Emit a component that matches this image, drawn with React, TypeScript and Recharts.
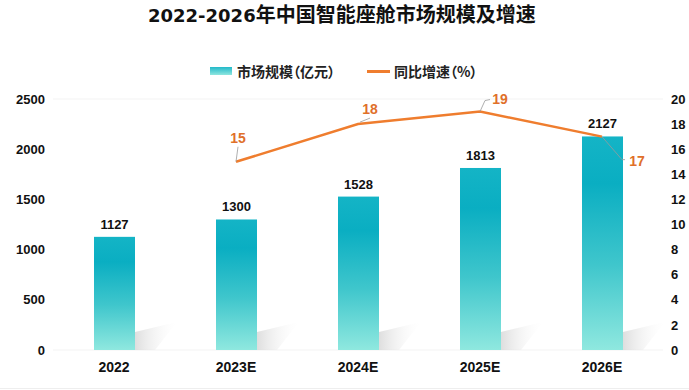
import React from "react";
import {
  ComposedChart,
  Bar,
  Line,
  XAxis,
  YAxis,
  CartesianGrid,
  LabelList,
} from "recharts";

const categories = ["2022", "2023E", "2024E", "2025E", "2026E"];
const marketSize = [1127, 1300, 1528, 1813, 2127];
const growthRate: (number | null)[] = [null, 15, 18, 19, 17];
const leftTicks = [0, 500, 1000, 1500, 2000, 2500];
const rightTicks = [0, 2, 4, 6, 8, 10, 12, 14, 16, 18, 20];

const TITLE_YEARS = "2022-2026";
const TITLE_REST = "年中国智能座舱市场规模及增速";
const LEGEND_BAR = "市场规模（亿元）";
const LEGEND_LINE = "同比增速（%）";

const data = categories.map((c, i) => ({
  name: c,
  size: marketSize[i],
  rate: growthRate[i],
}));

const NUM_FONT = "'Liberation Sans', Arial, 'Noto Sans CJK SC', sans-serif";
const TITLE_NUM_FONT = "'DejaVu Sans', 'Liberation Sans', sans-serif";
const CJK_FONT = "'Noto Sans CJK SC', 'Liberation Sans', sans-serif";
const ORANGE = "#ef7d2e";
const LABEL_ORANGE = "#e0702a";

// label placements for the growth line (dx, dy of label center; leader path)
const rateLabelStyle: Record<number, { dx: number; dy: number; leader: [number, number][] }> = {
  1: { dx: 2, dy: -24, leader: [[0, 0], [2, -15]] },
  2: { dx: 12, dy: -15, leader: [[2, -2], [12, -6]] },
  3: { dx: 20, dy: -13, leader: [[0, 0], [5, -11], [10, -12]] },
  4: { dx: 35, dy: 24, leader: [[0, 0], [20, 23], [23, 23]] },
};

const BarShape = (props: any) => {
  const { x, y, width, height } = props;
  const b = y + height;
  const r = x + width;
  const shadow = `${r},${b} ${r},${b - 18} ${r + 42},${b - 28} ${r + 20},${b}`;
  return (
    <g>
      <polygon points={shadow} fill="url(#shadowGrad)" />
      <rect x={x} y={y} width={width} height={height} fill="url(#barGrad)" />
    </g>
  );
};

const RateLabel = (props: any) => {
  const { x, y, value, index } = props;
  if (value == null) return null;
  const s = rateLabelStyle[index] || { dx: 0, dy: -14, leader: [] };
  const pts = s.leader.map(([a, b]) => `${x + a},${y + b}`).join(" ");
  return (
    <g>
      {s.leader.length > 1 && (
        <polyline points={pts} fill="none" stroke="#9a9a9a" strokeWidth={0.8} />
      )}
      <text
        x={x + s.dx}
        y={y + s.dy}
        textAnchor="middle"
        dominantBaseline="central"
        fill={LABEL_ORANGE}
        fontFamily={NUM_FONT}
        fontWeight="bold"
        fontSize={14}
      >
        {value}
      </text>
    </g>
  );
};

export default function App() {
  return (
    <div
      style={{
        position: "absolute",
        left: 0,
        top: 0,
        width: 689,
        height: 390,
        background: "#fff",
        overflow: "hidden",
      }}
    >
      <div
        style={{
          position: "absolute",
          left: 148,
          top: 1,
          fontWeight: "bold",
          color: "#111",
          lineHeight: "26px",
          whiteSpace: "nowrap",
        }}
      >
        <span style={{ fontFamily: TITLE_NUM_FONT, fontSize: 18 }}>{TITLE_YEARS}</span>
        <span style={{ fontFamily: CJK_FONT, fontSize: 20 }}>{TITLE_REST}</span>
      </div>
      <div
        style={{
          position: "absolute",
          left: 210,
          top: 61,
          display: "flex",
          alignItems: "center",
          fontFamily: CJK_FONT,
          fontSize: 14,
          fontWeight: "bold",
          fontFeatureSettings: '"palt"',
          color: "#222",
          lineHeight: "20px",
          whiteSpace: "nowrap",
        }}
      >
        <span
          style={{
            display: "inline-block",
            width: 22,
            height: 8,
            background: "linear-gradient(#22b9c9, #8fe6df)",
            marginRight: 5,
          }}
        />
        <span>{LEGEND_BAR}</span>
        <span
          style={{
            display: "inline-block",
            width: 23,
            height: 3,
            background: ORANGE,
            marginLeft: 32,
            marginRight: 4,
          }}
        />
        <span>{LEGEND_LINE}</span>
      </div>
      <div
        style={{
          position: "absolute",
          left: 0,
          top: 388,
          width: 689,
          height: 1,
          background: "#eeeeee",
        }}
      />
      <div style={{ position: "absolute", left: 0, top: 0 }}>
        <ComposedChart
          width={689}
          height={390}
          data={data}
          margin={{ top: 99, right: 0, bottom: 10, left: 0 }}
        >
          <defs>
            <linearGradient id="barGrad" x1="0" y1="0" x2="0" y2="1">
              <stop offset="0%" stopColor="#14b4c6" />
              <stop offset="22%" stopColor="#0aaec2" />
              <stop offset="60%" stopColor="#3fc6cc" />
              <stop offset="100%" stopColor="#8fe8df" />
            </linearGradient>
            <linearGradient id="shadowGrad" x1="0" y1="0" x2="1" y2="0">
              <stop offset="0%" stopColor="#d6d6d6" stopOpacity={0.8} />
              <stop offset="100%" stopColor="#ffffff" stopOpacity={0.1} />
            </linearGradient>
          </defs>
          <CartesianGrid stroke="#f3f3f3" vertical={false} />
          <XAxis
            dataKey="name"
            axisLine={false}
            tickLine={false}
            tickMargin={6}
            tick={{ fill: "#111", fontSize: 14, fontWeight: "bold", fontFamily: NUM_FONT }}
          />
          <YAxis
            yAxisId="left"
            width={53}
            domain={[0, 2500]}
            ticks={leftTicks}
            axisLine={false}
            tickLine={false}
            tick={{ fill: "#111", fontSize: 13, fontWeight: "bold", fontFamily: NUM_FONT }}
          />
          <YAxis
            yAxisId="right"
            orientation="right"
            width={26}
            domain={[0, 20]}
            ticks={rightTicks}
            axisLine={false}
            tickLine={false}
            tick={{ fill: "#111", fontSize: 13, fontWeight: "bold", fontFamily: NUM_FONT, textAnchor: "start" }}
          />
          <Bar
            yAxisId="left"
            dataKey="size"
            barSize={41}
            shape={<BarShape />}
            isAnimationActive={false}
          >
            <LabelList
              dataKey="size"
              position="top"
              offset={8}
              fill="#111"
              fontSize={13}
              fontWeight="bold"
              fontFamily={NUM_FONT}
            />
          </Bar>
          <Line
            yAxisId="right"
            dataKey="rate"
            stroke={ORANGE}
            strokeWidth={2.5}
            dot={false}
            activeDot={false}
            connectNulls={false}
            isAnimationActive={false}
          >
            <LabelList dataKey="rate" content={<RateLabel />} />
          </Line>
        </ComposedChart>
      </div>
    </div>
  );
}
